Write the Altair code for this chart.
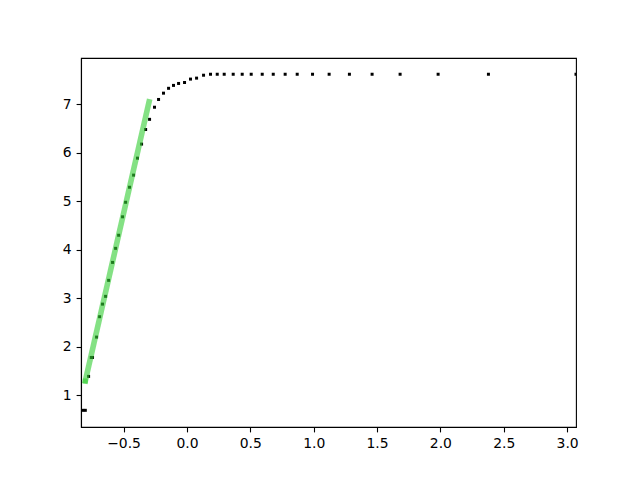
import altair as alt
import pandas as pd

# black scatter points (x, y)
pts_x = [-0.822, -0.802, -0.776, -0.755, -0.745, -0.713, -0.689, -0.666, -0.642, -0.618,
         -0.587, -0.563, -0.539, -0.508, -0.484, -0.453, -0.421, -0.390, -0.358, -0.326,
         -0.295, -0.256, -0.224, -0.185, -0.145, -0.106, -0.066, -0.019, 0.028, 0.076,
         0.131, 0.186, 0.239, 0.294, 0.365, 0.436, 0.507, 0.594, 0.681, 0.775,
         0.870, 0.991, 1.122, 1.282, 1.461, 1.682, 1.982, 2.379, 3.070]
pts_y = [0.69, 0.69, 1.39, 1.78, 1.78, 2.20, 2.62, 2.88, 3.04, 3.37,
         3.74, 4.03, 4.30, 4.68, 4.98, 5.29, 5.54, 5.89, 6.18, 6.48,
         6.69, 6.94, 7.10, 7.23, 7.33, 7.39, 7.43, 7.45, 7.52, 7.54,
         7.60, 7.62, 7.62, 7.62, 7.62, 7.62, 7.62, 7.62, 7.62, 7.62,
         7.62, 7.62, 7.62, 7.62, 7.62, 7.62, 7.62, 7.62, 7.62]

# green fitted line endpoints
line_x = [-0.802, -0.299]
line_y = [1.295, 7.05]

x_ticks = [-0.5, 0.0, 0.5, 1.0, 1.5, 2.0, 2.5, 3.0]
y_ticks = [1, 2, 3, 4, 5, 6, 7]

pts = pd.DataFrame({"x": pts_x, "y": pts_y})
ln = pd.DataFrame({"x": line_x, "y": line_y})
start = ln.iloc[[0]]

xs = alt.Scale(domain=[-0.836, 3.07], nice=False, zero=False)
ys = alt.Scale(domain=[0.346, 7.955], nice=False, zero=False)

xax = alt.Axis(values=x_ticks, format=".1f", title=None, grid=False)
yax = alt.Axis(values=y_ticks, format="d", title=None, grid=False)

points = alt.Chart(pts).mark_square(size=9, color="black", opacity=1, clip=True).encode(
    x=alt.X("x:Q", scale=xs, axis=xax),
    y=alt.Y("y:Q", scale=ys, axis=yax),
)

line = alt.Chart(ln).mark_line(color="limegreen", opacity=0.6, strokeWidth=5.6,
                               strokeCap="square", clip=True).encode(
    x=alt.X("x:Q", scale=xs),
    y=alt.Y("y:Q", scale=ys),
)

marker = alt.Chart(start).mark_square(size=25, color="limegreen", opacity=0.6, clip=True).encode(
    x=alt.X("x:Q", scale=xs),
    y=alt.Y("y:Q", scale=ys),
)

chart = alt.layer(points, line, marker).properties(
    width=495, height=369,
    autosize=alt.AutoSizeParams(type="none"),
    padding={"left": 73, "top": 50, "right": 56, "bottom": 45},
).configure_view(
    stroke="black", strokeWidth=1.1
).configure_axis(
    domainColor="black", domainWidth=1.1,
    tickColor="black", tickWidth=1.1, tickSize=4.9,
    labelColor="black", labelFont="DejaVu Sans", labelFontSize=13.9,
    labelPadding=4.9,
)

chart.save("out.html", embed_options={"renderer": "svg", "actions": False})
